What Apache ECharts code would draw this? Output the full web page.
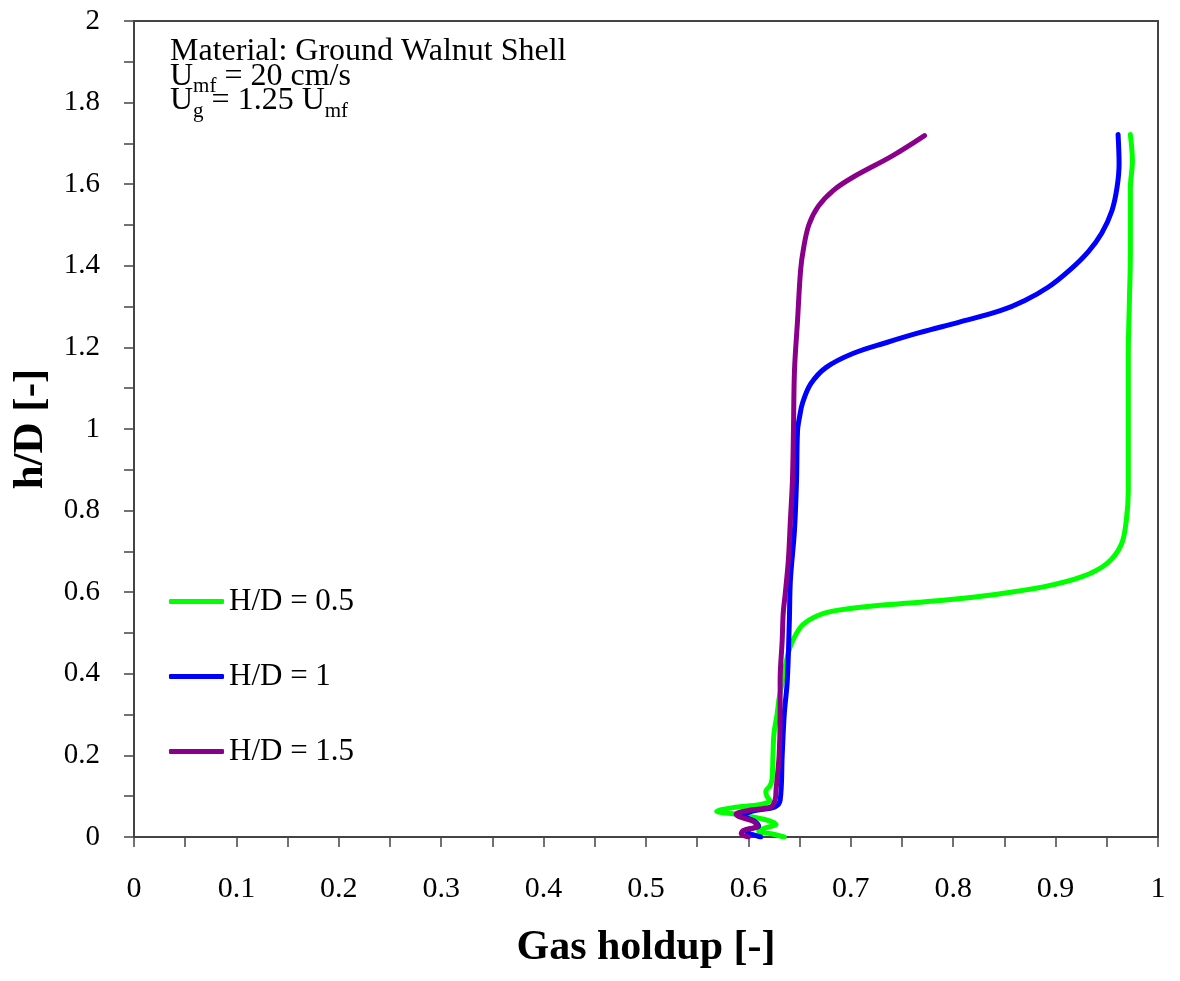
<!DOCTYPE html>
<html>
<head>
<meta charset="utf-8">
<script src="https://cdn.jsdelivr.net/npm/echarts@6/dist/echarts.min.js"></script>
<style>
  html, body { margin: 0; padding: 0; background: #fff; }
  #chart { width: 1180px; height: 981px; }
</style>
</head>
<body>
<div id="chart"></div>
<script>
// Series names
const seriesNames = ['H/D = 0.5', 'H/D = 1', 'H/D = 1.5'];

// [gas holdup, h/D] pairs
const greenData = [
  [0.635,0.000],[0.622,0.008],[0.610,0.014],[0.616,0.022],[0.627,0.031],[0.616,0.043],
  [0.590,0.055],[0.569,0.063],[0.585,0.072],[0.612,0.080],[0.621,0.089],[0.618,0.100],
  [0.617,0.112],[0.621,0.125],[0.623,0.140],[0.624,0.200],[0.625,0.254],[0.628,0.300],
  [0.630,0.340],[0.634,0.390],[0.637,0.430],[0.640,0.460],[0.645,0.490],[0.653,0.520],
  [0.668,0.543],[0.688,0.556],[0.734,0.569],[0.790,0.580],[0.839,0.594],[0.888,0.613],
  [0.926,0.638],[0.950,0.670],[0.964,0.716],[0.969,0.775],[0.971,0.850],[0.971,1.000],
  [0.971,1.185],[0.972,1.307],[0.973,1.430],[0.973,1.590],[0.975,1.657],[0.973,1.722]
];
const blueData = [
  [0.612,0.000],[0.600,0.010],[0.598,0.016],[0.610,0.027],[0.605,0.040],[0.595,0.052],
  [0.605,0.064],[0.626,0.074],[0.631,0.090],[0.633,0.200],[0.635,0.300],[0.638,0.384],
  [0.640,0.531],[0.641,0.629],[0.645,0.752],[0.647,0.874],[0.648,0.996],[0.650,1.030],
  [0.653,1.065],[0.661,1.111],[0.676,1.151],[0.702,1.185],[0.735,1.212],[0.767,1.236],
  [0.806,1.262],[0.846,1.290],[0.870,1.315],[0.893,1.348],[0.914,1.390],[0.932,1.435],
  [0.945,1.480],[0.955,1.535],[0.960,1.592],[0.962,1.650],[0.961,1.722]
];
const purpleData = [
  [0.600,0.000],[0.593,0.008],[0.595,0.016],[0.609,0.027],[0.605,0.038],[0.591,0.050],
  [0.588,0.056],[0.600,0.065],[0.622,0.074],[0.626,0.090],[0.627,0.115],[0.630,0.200],
  [0.631,0.300],[0.631,0.384],[0.633,0.482],[0.634,0.548],[0.636,0.597],[0.639,0.678],
  [0.641,0.776],[0.643,0.874],[0.644,0.996],[0.645,1.143],[0.648,1.266],[0.651,1.390],
  [0.654,1.445],[0.659,1.500],[0.668,1.545],[0.683,1.585],[0.702,1.617],[0.741,1.670],
  [0.772,1.719]
];

const seriesColors = ['#00ff00', '#0000ff', '#8b008b'];

const FONT = '"Liberation Serif", "Times New Roman", serif';

const chart = echarts.init(document.getElementById('chart'), null, { renderer: 'canvas' });

function mkSeries(name, data, color) {
  return {
    name: name,
    type: 'line',
    data: data,
    showSymbol: false,
    symbol: 'none',
    smooth: 0.35,
    lineStyle: { color: color, width: 5, cap: 'round', join: 'round' },
    itemStyle: { color: color },
    emphasis: { disabled: true },
    z: 3
  };
}

chart.setOption({
  animation: false,
  backgroundColor: '#ffffff',
  grid: {
    left: 134, right: 22, top: 21, bottom: 144,
    show: true, borderColor: '#444', borderWidth: 2, backgroundColor: 'transparent'
  },
  xAxis: {
    type: 'value', min: 0, max: 1, interval: 0.1,
    name: 'Gas holdup [-]', nameLocation: 'middle', nameGap: 90,
    nameTextStyle: { fontFamily: FONT, fontSize: 42, fontWeight: 'bold', color: '#000' },
    axisLine: { show: true, lineStyle: { color: '#444', width: 2 } },
    axisTick: { show: true, inside: false, length: 10, lineStyle: { color: '#444', width: 1.5 } },
    minorTick: { show: true, splitNumber: 2, length: 10, lineStyle: { color: '#444', width: 1.5 } },
    splitLine: { show: false },
    axisLabel: { fontFamily: FONT, fontSize: 30, color: '#000', margin: 37,
      formatter: v => String(Math.round(v * 10) / 10) }
  },
  yAxis: {
    type: 'value', min: 0, max: 2, interval: 0.2,
    name: 'h/D [-]', nameLocation: 'middle', nameGap: 75, nameRotate: 90,
    nameTextStyle: { fontFamily: FONT, fontSize: 43, fontWeight: 'bold', color: '#000' },
    axisLine: { show: true, lineStyle: { color: '#444', width: 2 } },
    axisTick: { show: true, inside: false, length: 10, lineStyle: { color: '#444', width: 1.5 } },
    minorTick: { show: true, splitNumber: 2, length: 10, lineStyle: { color: '#444', width: 1.5 } },
    splitLine: { show: false },
    axisLabel: { fontFamily: FONT, fontSize: 29, color: '#000', margin: 34,
      formatter: v => String(Math.round(v * 10) / 10) }
  },
  legend: {
    orient: 'vertical', left: 164, top: 581,
    itemWidth: 55, itemHeight: 5, itemGap: 44,
    icon: 'roundRect',
    textStyle: { fontFamily: FONT, fontSize: 31, color: '#000', lineHeight: 31 },
    data: seriesNames
  },
  graphic: [{
    type: 'text', left: 170, top: 36,
    style: {
      text: 'Material: Ground Walnut Shell\n{u|U}{s|mf}{u| = 20 cm/s}\n{u|U}{s|g}{u| = 1.25 U}{s|mf}',
      font: '32px "Liberation Serif", serif',
      fill: '#000',
      lineHeight: 24.5,
      rich: {
        u: { fontFamily: FONT, fontSize: 32, lineHeight: 24.5, fill: '#000' },
        s: { fontFamily: FONT, fontSize: 21, lineHeight: 24.5, padding: [20, 0, 0, 0], fill: '#000' }
      }
    }
  }],
  series: [
    mkSeries(seriesNames[0], greenData, seriesColors[0]),
    mkSeries(seriesNames[1], blueData, seriesColors[1]),
    mkSeries(seriesNames[2], purpleData, seriesColors[2])
  ]
});
</script>
</body>
</html>
